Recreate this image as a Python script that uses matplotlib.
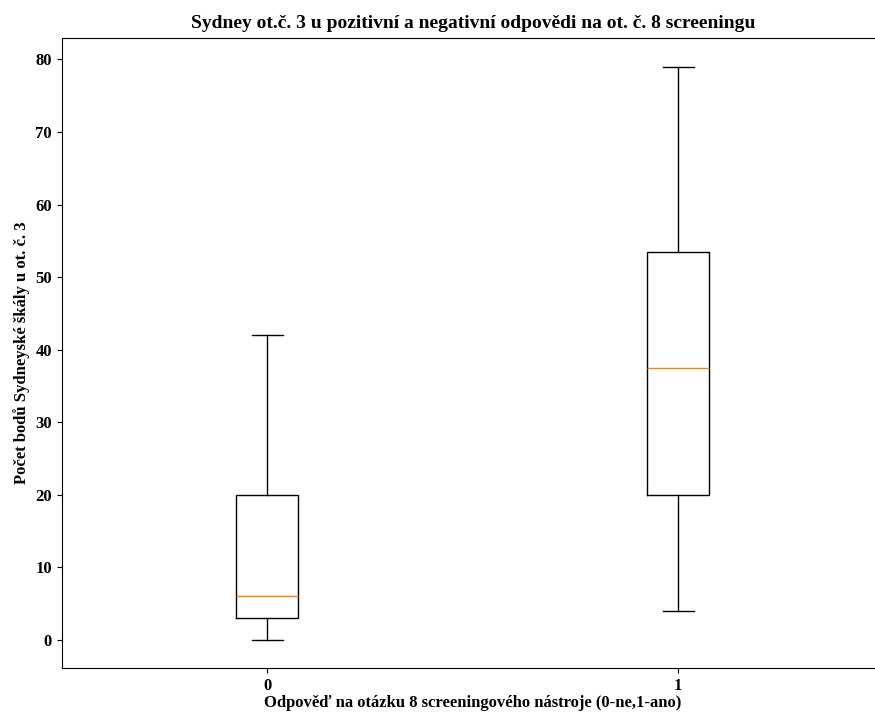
import matplotlib
matplotlib.use("Agg")
import matplotlib.pyplot as plt

categories = ["0", "1"]
whisker_low = [0, 4]
q1 = [3, 20]
median = [6, 37.45]
q3 = [20, 53.5]
whisker_high = [42, 79]

plt.rcParams['font.family'] = ['Liberation Serif', 'DejaVu Serif']
plt.rcParams['font.weight'] = 'bold'

fig = plt.figure(figsize=(8.75, 7.13), dpi=100)
ax = fig.add_axes([0.0706, 0.0627, 0.9394, 0.8839])

stats = []
for i, c in enumerate(categories):
    stats.append(dict(label=c, whislo=whisker_low[i], q1=q1[i], med=median[i],
                      q3=q3[i], whishi=whisker_high[i], fliers=[]))
ax.bxp(stats, positions=[1, 2], showfliers=False)

ax.set_title("Sydney ot.č. 3 u pozitivní a negativní odpovědi na ot. č. 8 screeningu",
             fontsize=14, fontweight='bold', pad=7)
ax.set_xlabel("Odpověď na otázku 8 screeningového nástroje (0-ne,1-ano)", fontsize=12,
              fontweight='bold', labelpad=1)
ax.set_ylabel("Počet bodů Sydneyské škály u ot. č. 3", fontsize=12, fontweight='bold')
for lab in ax.get_xticklabels() + ax.get_yticklabels():
    lab.set_fontweight('bold')
    lab.set_fontsize(12)

fig.savefig("out.png", dpi=100)
